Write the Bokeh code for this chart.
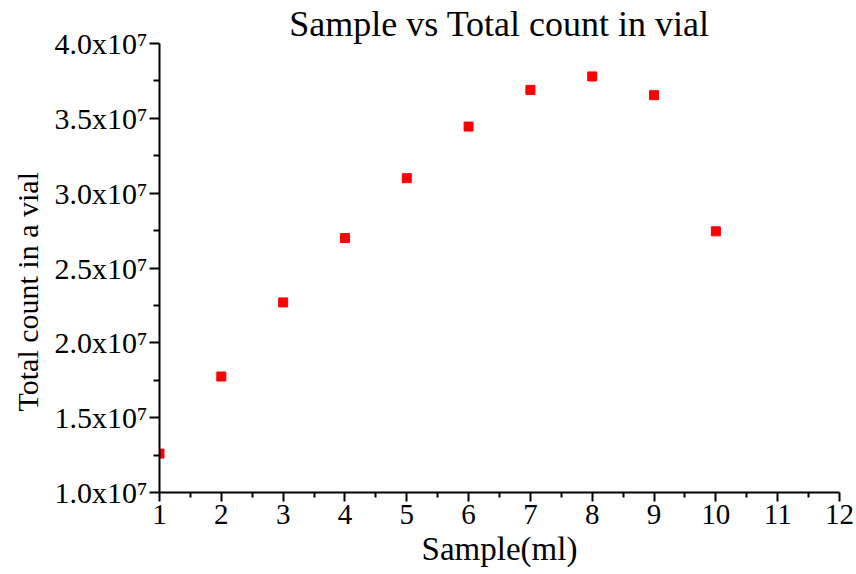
from bokeh.plotting import figure
from bokeh.models import FixedTicker, Range1d, Title
from bokeh.embed import file_html
from bokeh.resources import INLINE

# Sample volume (ml) and total count measured in the vial
sample_ml = [1, 2, 3, 4, 5, 6, 7, 8, 9, 10]
total_count = [1.26e7, 1.775e7, 2.27e7, 2.70e7, 3.10e7, 3.445e7, 3.69e7, 3.78e7, 3.655e7, 2.745e7]

x_ticks = [1, 2, 3, 4, 5, 6, 7, 8, 9, 10, 11, 12]
y_ticks = [1.0e7, 1.5e7, 2.0e7, 2.5e7, 3.0e7, 3.5e7, 4.0e7]
y_tick_labels = ["1.0x10⁷", "1.5x10⁷", "2.0x10⁷", "2.5x10⁷", "3.0x10⁷", "3.5x10⁷", "4.0x10⁷"]

FONT = "Liberation Serif"

p = figure(
    frame_width=680, frame_height=449,
    min_border_left=159, min_border_right=17, min_border_top=43, min_border_bottom=82,
    x_range=Range1d(1, 12), y_range=Range1d(1.0e7, 4.0e7),
    output_backend="svg", toolbar_location=None,
    title="Sample vs Total count in vial",
)

p.title.text_font = FONT
p.title.text_font_size = "36px"
p.title.text_font_style = "normal"
p.title.align = "center"
p.title.text_color = "black"
p.title.offset = 0
p.title.standoff = 0

p.grid.visible = False
p.outline_line_color = None
p.background_fill_color = "white"
p.border_fill_color = "white"

for ax in (p.xaxis[0], p.yaxis[0]):
    ax.axis_line_width = 2
    ax.axis_line_color = "black"
    ax.major_tick_line_width = 2
    ax.minor_tick_line_width = 2
    ax.major_tick_line_color = "black"
    ax.minor_tick_line_color = "black"
    ax.major_tick_in = 0
    ax.minor_tick_in = 0
    ax.major_label_text_font = FONT
    ax.major_label_text_color = "black"
    ax.axis_label_text_font = FONT
    ax.axis_label_text_font_style = "normal"
    ax.axis_label_text_color = "black"

p.xaxis.ticker = FixedTicker(ticks=x_ticks, minor_ticks=[t + 0.5 for t in x_ticks[:-1]])
p.xaxis.major_tick_out = 9
p.xaxis.minor_tick_out = 5
p.xaxis.major_label_text_font_size = "29px"
p.xaxis.axis_label = "Sample(ml)"
p.xaxis.axis_label_text_font_size = "33px"
p.xaxis.major_label_standoff = 3
p.xaxis.axis_label_standoff = 4

p.yaxis.ticker = FixedTicker(ticks=y_ticks, minor_ticks=[t + 0.25e7 for t in y_ticks[:-1]])
p.yaxis.major_label_overrides = {t: lab for t, lab in zip(y_ticks, y_tick_labels)}
p.yaxis.major_tick_out = 10
p.yaxis.minor_tick_out = 6
p.yaxis.major_label_text_font_size = "30px"
p.yaxis.major_label_standoff = 2

# Vertical y-axis title, starting a little above the frame's bottom edge
p.add_layout(Title(
    text="Total count in a vial", align="left", offset=81, standoff=16,
    text_font=FONT, text_font_size="30px", text_font_style="normal", text_color="black",
), "left")

p.scatter(sample_ml, total_count, marker="square", size=9, fill_color="red", line_color="red")

open("out.html", "w").write(file_html(p, INLINE))
